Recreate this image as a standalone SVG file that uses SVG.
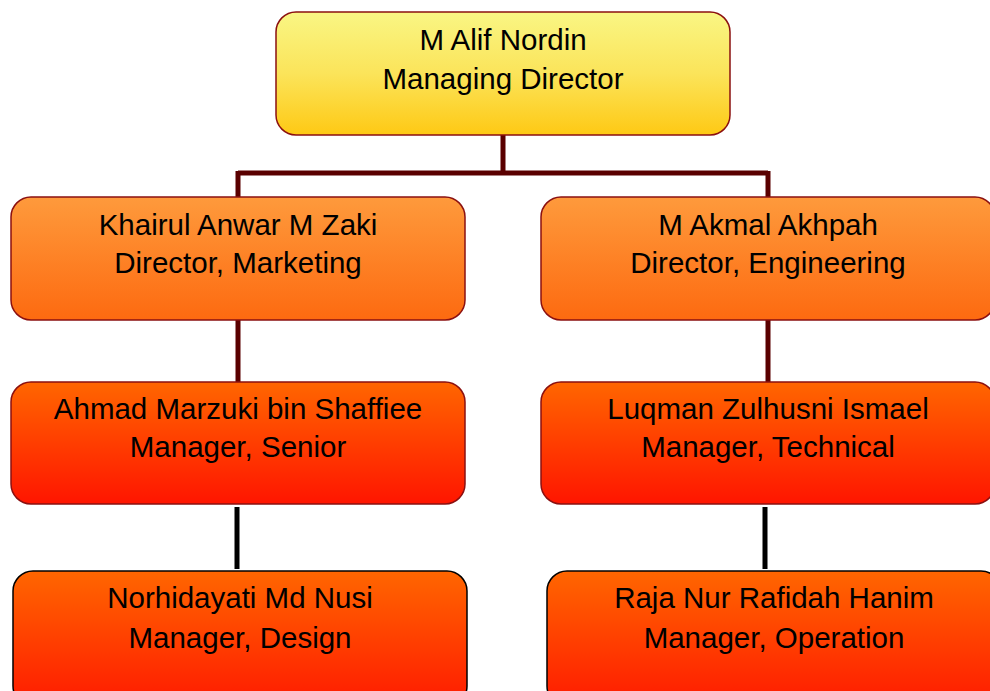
<svg xmlns="http://www.w3.org/2000/svg" width="990" height="691" viewBox="0 0 990 691">
<defs>
<linearGradient id="gY" x1="0" y1="0" x2="0" y2="1"><stop offset="0" stop-color="#f9f684"/><stop offset="0.5" stop-color="#fbe45a"/><stop offset="1" stop-color="#fec914"/></linearGradient>
<linearGradient id="gO" x1="0" y1="0" x2="0" y2="1"><stop offset="0" stop-color="#fe9a3c"/><stop offset="1" stop-color="#fd6a10"/></linearGradient>
<linearGradient id="gR" x1="0" y1="0" x2="0" y2="1"><stop offset="0" stop-color="#ff6600"/><stop offset="1" stop-color="#ff1500"/></linearGradient>
<linearGradient id="gR2" x1="0" y1="0" x2="0" y2="1"><stop offset="0" stop-color="#ff6600"/><stop offset="1" stop-color="#ff1a00"/></linearGradient>
</defs>
<style>
.box{stroke:#8b1010;stroke-width:1.5}
.boxb{stroke:#000;stroke-width:1.5}
.t{font-family:"Liberation Sans",Arial,sans-serif;font-size:29.5px;fill:#000;text-anchor:middle}
.c1{stroke:#5a0000;stroke-width:5;fill:none}
.c2{stroke:#000;stroke-width:5;fill:none}
</style>
<g id="connectors">
<path class="c1" d="M503 135 V173 M238 173 H768 M238 171 V197 M768 171 V197"/>
<path class="c1" d="M238 320 V382 M768 320 V382"/>
<path class="c2" d="M237 507 V569 M765 507 V569"/>
</g>
<g id="n-md">
<rect class="box" x="276" y="12" width="454" height="123" rx="20" fill="url(#gY)"/>
<text class="t" x="503" y="50">M Alif Nordin</text>
<text class="t" x="503" y="89">Managing Director</text>
</g>
<g id="n-dm">
<rect class="box" x="11" y="197" width="454" height="123" rx="20" fill="url(#gO)"/>
<text class="t" x="238" y="235">Khairul Anwar M Zaki</text>
<text class="t" x="238" y="273">Director, Marketing</text>
</g>
<g id="n-de">
<rect class="box" x="541" y="197" width="454" height="123" rx="20" fill="url(#gO)"/>
<text class="t" x="768" y="235">M Akmal Akhpah</text>
<text class="t" x="768" y="273">Director, Engineering</text>
</g>
<g id="n-ms">
<rect class="box" x="11" y="382" width="454" height="122" rx="20" fill="url(#gR)"/>
<text class="t" x="238" y="419">Ahmad Marzuki bin Shaffiee</text>
<text class="t" x="238" y="457">Manager, Senior</text>
</g>
<g id="n-mt">
<rect class="box" x="541" y="382" width="454" height="122" rx="20" fill="url(#gR)"/>
<text class="t" x="768" y="419">Luqman Zulhusni Ismael</text>
<text class="t" x="768" y="457">Manager, Technical</text>
</g>
<g id="n-mdg">
<rect class="boxb" x="13" y="571" width="454" height="135" rx="20" fill="url(#gR2)"/>
<text class="t" x="240" y="608">Norhidayati Md Nusi</text>
<text class="t" x="240" y="648">Manager, Design</text>
</g>
<g id="n-mop">
<rect class="boxb" x="547" y="571" width="454" height="135" rx="20" fill="url(#gR2)"/>
<text class="t" x="774" y="608">Raja Nur Rafidah Hanim</text>
<text class="t" x="774" y="648">Manager, Operation</text>
</g>
</svg>
